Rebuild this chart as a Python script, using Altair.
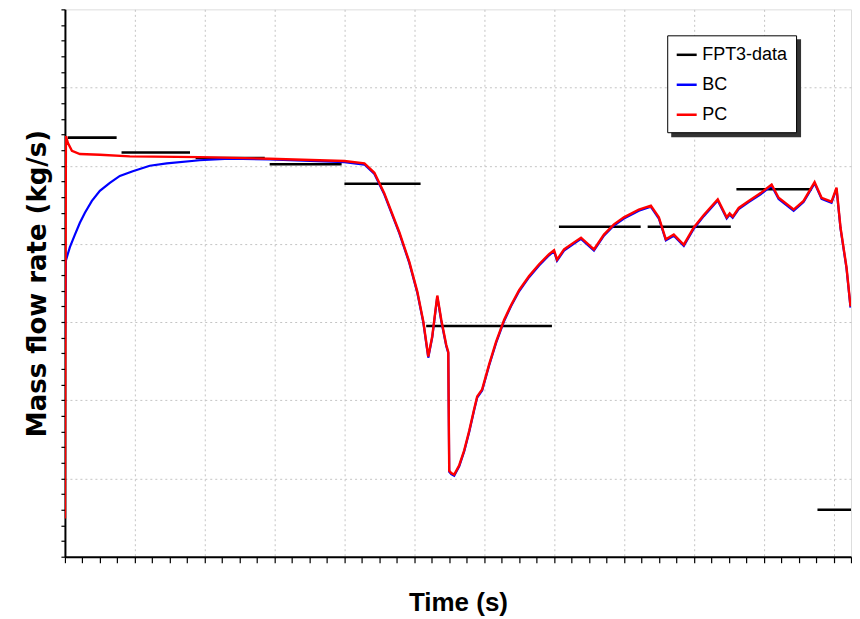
import altair as alt
import pandas as pd

# ---- data ----
series_names = ["FPT3-data", "BC", "PC"]
series_colors = ["#000000", "#0000ff", "#ff0000"]

# FPT3 measured data: horizontal segments (start time, end time, value)
fpt3_x0 = [4, 81, 187, 293, 400, 517, 707, 834, 961, 1077]
fpt3_x1 = [74, 179, 286, 396, 509, 697, 824, 953, 1069, 1126]
fpt3_y = [53.6, 51.7, 51.0, 50.2, 47.7, 29.5, 42.2, 42.2, 47.0, 6.0]

# PC calculation
pc_x = [0, 1.4, 4.3, 10, 21.4, 50, 92.9, 192.9, 292.9, 400, 428.6, 442.9, 457, 478.6,
        492.9, 504.3, 512.9, 520, 525.7, 532.9, 538.6, 545.7, 548.6, 550, 552.9, 557.1,
        564.3, 571.4, 578.6, 585.7, 590, 597.1, 607.1, 617.1, 628.6, 638.6, 650, 664.3,
        678.6, 692.9, 700, 704.3, 714.3, 728.6, 738.6, 757.1, 771.4, 785.7, 800, 821.4,
        838.6, 850, 860, 871.4, 885.7, 900, 914.3, 934.3, 947.1, 951.4, 955.7, 964.3,
        978.6, 995.7, 1011.4, 1021.4, 1042.9, 1057.1, 1072.9, 1082.9, 1097.1, 1104.3,
        1110, 1118.6, 1124.3]
pc_y = [4.9, 53.8, 52.9, 51.9, 51.5, 51.4, 51.2, 51.1, 50.9, 50.6, 50.3, 49.1, 46.5, 41.5,
        37.7, 33.9, 30.1, 25.6, 28.2, 33.4, 30.3, 27.1, 26.2, 11.0, 10.7, 10.5,
        11.7, 13.6, 16.1, 18.9, 20.5, 21.4, 24.6, 27.5, 30.3, 32.2, 34.1, 35.9,
        37.4, 38.7, 39.2, 38.0, 39.3, 40.2, 40.8, 39.3, 41.2, 42.5, 43.4, 44.4,
        44.9, 43.4, 40.6, 41.2, 39.9, 42.1, 43.7, 45.7, 43.4, 43.9, 43.5, 44.6,
        45.5, 46.5, 47.6, 45.9, 44.4, 45.5, 47.9, 45.9, 45.4, 47.2,
        42.1, 37.0, 32.0]

# BC calculation: differs only in the early part, then overlaps PC
bc_x_start = [0, 1.4, 7.1, 14.3, 21.4, 28.6, 38.6, 50, 64.3, 78.6, 97.1, 121.4, 145.7,
              192.9, 235.7, 292.9]
bc_y_start = [27.5, 37.9, 39.6, 41.2, 42.7, 44.0, 45.5, 46.8, 47.8, 48.7, 49.3, 50.0, 50.3,
              50.7, 50.9, 50.8]

# ---- build tables ----
rows = []
for i, (a, b, v) in enumerate(zip(fpt3_x0, fpt3_x1, fpt3_y)):
    rows.append({"series": "FPT3-data", "seg": f"d{i}", "t": a, "m": v, "o": 0})
    rows.append({"series": "FPT3-data", "seg": f"d{i}", "t": b, "m": v, "o": 1})
for k, (a, v) in enumerate(zip(pc_x, pc_y)):
    rows.append({"series": "PC", "seg": "pc", "t": a, "m": v, "o": k})
bc_x = bc_x_start + [x for x in pc_x if x >= 400]
bc_y = bc_y_start + [y - 0.15 for x, y in zip(pc_x, pc_y) if x >= 400]
for k, (a, v) in enumerate(zip(bc_x, bc_y)):
    rows.append({"series": "BC", "seg": "bc", "t": a, "m": v, "o": k})
df = pd.DataFrame(rows)

x_ticks = list(range(0, 1126, 25))
y_ticks = list(range(0, 71, 2))

grid_common = dict(
    gridColor="#c4c4c4",
    gridDash=[2, 3],
    gridWidth=1,
    labels=False,
    domainColor="black",
    domainWidth=2,
    tickColor="black",
    tickWidth=1.2,
)

x_enc = alt.X(
    "t:Q",
    scale=alt.Scale(domain=[0, 1125], nice=False, zero=False),
    axis=alt.Axis(
        title="Time (s)",
        values=x_ticks,
        tickSize=6,
        gridOpacity={"condition": {"test": "datum.value % 100 === 0 && datum.value > 0", "value": 1}, "value": 0},
        titleFont="Liberation Sans",
        titleFontSize=26,
        titleFontWeight="bold",
        titleColor="black",
        titlePadding=26,
        **grid_common,
    ),
)
y_enc = alt.Y(
    "m:Q",
    scale=alt.Scale(domain=[0, 70], nice=False, zero=False),
    axis=alt.Axis(
        title="Mass flow rate (kg/s)",
        values=y_ticks,
        tickSize=4,
        gridOpacity={"condition": {"test": "datum.value % 10 === 0 && datum.value > 0 && datum.value < 70", "value": 1}, "value": 0},
        titleFont="DejaVu Sans",
        titleFontSize=26,
        titleFontWeight="bold",
        titleColor="black",
        titlePadding=10,
        **grid_common,
    ),
)
color_enc = alt.Color(
    "series:N",
    scale=alt.Scale(domain=series_names, range=series_colors),
    legend=alt.Legend(
        title=None,
        orient="none",
        legendX=603,
        legendY=26,
        symbolType="stroke",
        symbolSize=400,
        symbolStrokeWidth=2.5,
        labelFont="Liberation Sans",
        labelFontSize=18,
        labelColor="black",
        labelOffset=4,
        rowPadding=9,
        padding=8,
        strokeColor="black",
        fillColor="white",
        cornerRadius=0,
    ),
)

def layer(name, width):
    return (
        alt.Chart(df)
        .transform_filter(alt.datum.series == name)
        .mark_line(strokeWidth=width, clip=True)
        .encode(x=x_enc, y=y_enc, color=color_enc, detail="seg:N", order="o:Q")
    )

# legend drop shadow
shadow = alt.Chart(pd.DataFrame({"a": [0]})).mark_rect(color="#333333").encode(
    x=alt.value(607), x2=alt.value(737), y=alt.value(30), y2=alt.value(128)
)

chart = (
    alt.layer(layer("FPT3-data", 2.6), layer("BC", 2.2), layer("PC", 2.4), shadow)
    .properties(width=787, height=548, padding={"left": 16, "top": 0, "right": 0, "bottom": 0})
    .configure_view(stroke="black", strokeWidth=2)
    .configure(background="white")
)

chart.save("out.html", embed_options={"renderer": "svg", "actions": False})
